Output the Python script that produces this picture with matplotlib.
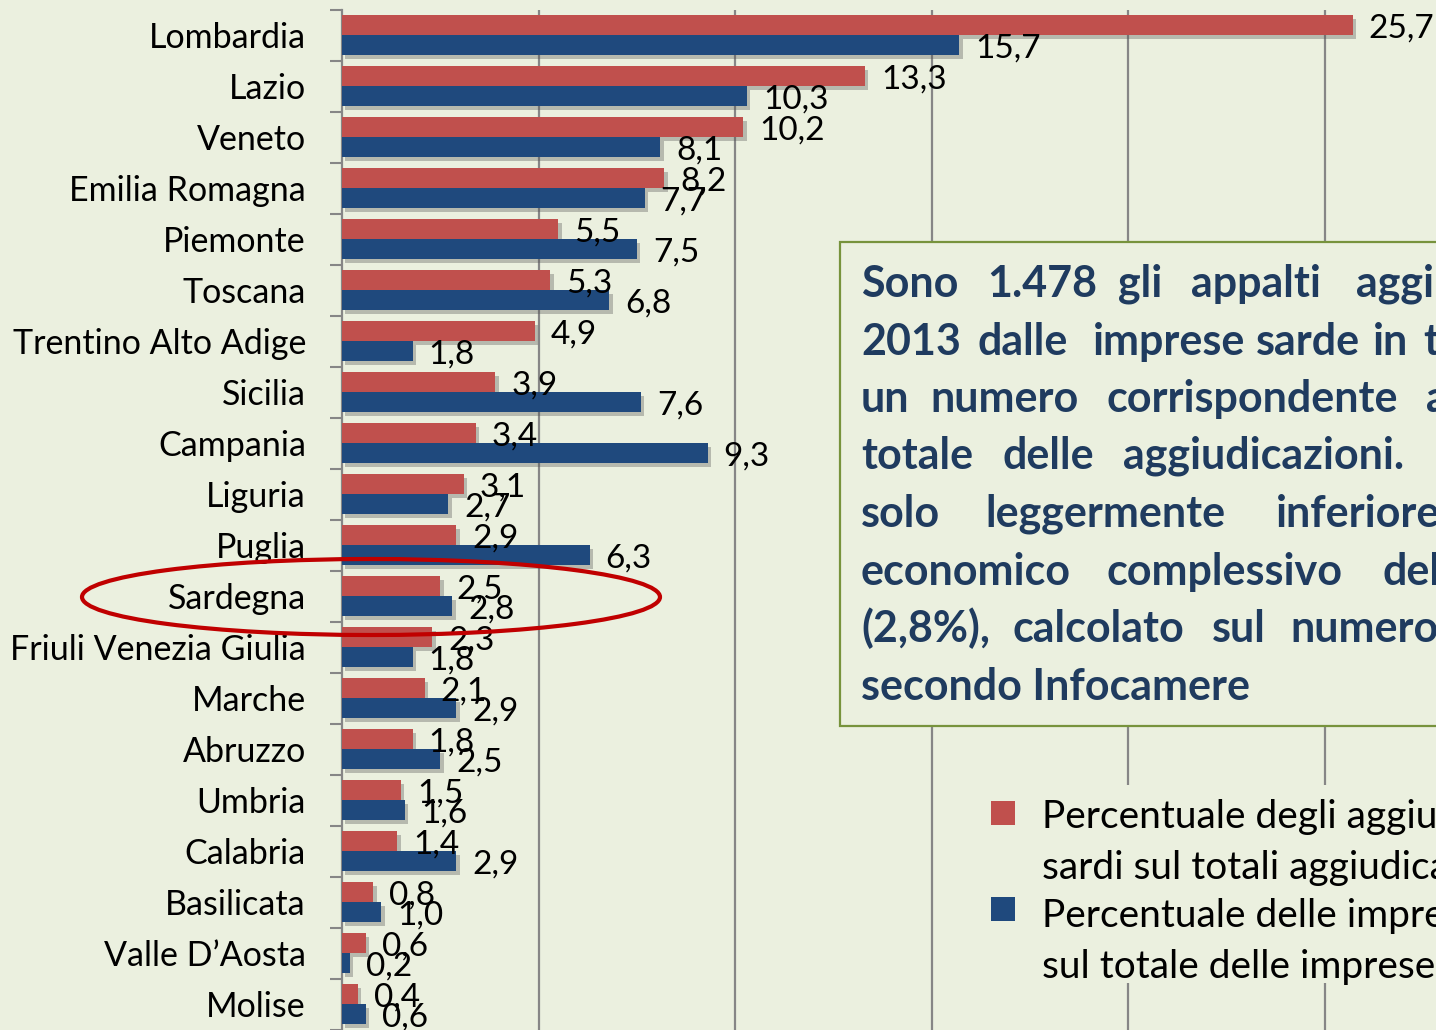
import matplotlib
matplotlib.use("Agg")
import matplotlib.pyplot as plt
import matplotlib.patheffects as pe
from matplotlib.patches import Rectangle, Ellipse

regioni = ["Lombardia", "Lazio", "Veneto", "Emilia Romagna", "Piemonte", "Toscana",
           "Trentino Alto Adige", "Sicilia", "Campania", "Liguria", "Puglia", "Sardegna",
           "Friuli Venezia Giulia", "Marche", "Abruzzo", "Umbria", "Calabria",
           "Basilicata", "Valle D\u2019Aosta", "Molise"]
aggiudicatari = [25.7, 13.3, 10.2, 8.2, 5.5, 5.3, 4.9, 3.9, 3.4, 3.1, 2.9, 2.5,
                 2.3, 2.1, 1.8, 1.5, 1.4, 0.8, 0.6, 0.4]
imprese = [15.7, 10.3, 8.1, 7.7, 7.5, 6.8, 1.8, 7.6, 9.3, 2.7, 6.3, 2.8,
           1.8, 2.9, 2.5, 1.6, 2.9, 1.0, 0.2, 0.6]

legenda = [["Percentuale degli aggiudicatari", "sardi sul totali aggiudicazioni"],
           ["Percentuale delle imprese sarde", "sul totale delle imprese italiane"]]

# justified box text: (word, x in px) per line, baseline y in px
box_lines = [
    (297, [("Sono", 861), ("1.478", 987), ("gli", 1118), ("appalti", 1191), ("aggiudicati", 1356)]),
    (355, [("2013", 861), ("dalle", 977), ("imprese", 1093), ("sarde", 1256), ("in", 1373), ("tutta", 1423)]),
    (412, [("un", 861), ("numero", 930), ("corrispondente", 1107), ("al", 1426)]),
    (469, [("totale", 861), ("delle", 1003), ("aggiudicazioni.", 1123)]),
    (527, [("solo", 861), ("leggermente", 985), ("inferiore", 1276)]),
    (585, [("economico", 861), ("complessivo", 1107), ("delle", 1383)]),
    (642, [("(2,8%),", 861), ("calcolato", 1013), ("sul", 1212), ("numero", 1290)]),
    (700, [("secondo Infocamere", 861)]),
]

bg = "#EBF0DF"
red = "#C0504D"
blue = "#1F497D"
grid = "#868686"
W, H = 1436, 1030

plt.rcParams["font.family"] = ["Lato", "DejaVu Sans"]

fig = plt.figure(figsize=(W / 100, H / 100), dpi=100)
fig.patch.set_facecolor(bg)
ax = fig.add_axes([342 / W, 0, 1 - 342 / W, 1020 / H])
ax.set_facecolor(bg)

n = len(regioni)
pos = list(range(n))
shadow = [pe.SimplePatchShadow(offset=(2.5, -2.5), shadow_rgbFace="#555555", alpha=0.35), pe.Normal()]
b1 = ax.barh([p - 0.2 for p in pos], aggiudicatari, height=0.39, color=red, zorder=3)
b2 = ax.barh([p + 0.19 for p in pos], imprese, height=0.39, color=blue, zorder=3)
for b in list(b1) + list(b2):
    b.set_path_effects(shadow)

for p, v in zip(pos, aggiudicatari):
    ax.annotate(f"{v:.1f}".replace(".", ","), (v, p - 0.2), xytext=(11.5, -2.5),
                textcoords="offset points", ha="left", va="center", fontsize=24, zorder=4)
for p, v in zip(pos, imprese):
    ax.annotate(f"{v:.1f}".replace(".", ","), (v, p + 0.19), xytext=(11.5, -2.5),
                textcoords="offset points", ha="left", va="center", fontsize=24, zorder=4)

ax.set_ylim(n - 0.5, -0.5)
ax.set_xlim(0, 1094 / 39.32)
ax.set_yticks(pos)
ax.set_yticklabels(regioni, fontsize=24.5)
ax.tick_params(axis="y", which="major", length=0, pad=26)
ax.set_yticks([p - 0.5 for p in range(n + 1)], minor=True)
ax.tick_params(axis="y", which="minor", length=9, width=1.5, color=grid)
ax.set_xticks([5, 10, 15, 20, 25])
ax.tick_params(axis="x", length=0, labelbottom=False)
ax.grid(axis="x", color=grid, linewidth=1.6, zorder=0)
for s in ["top", "right", "bottom"]:
    ax.spines[s].set_visible(False)
ax.spines["left"].set_color(grid)
ax.spines["left"].set_linewidth(1.6)

# text box
fig.add_artist(Rectangle((840 / W, 1 - 726 / H), 700 / W, 484 / H, transform=fig.transFigure,
                         facecolor=bg, edgecolor="#77933C", linewidth=1.6, zorder=5))
for yb, words in box_lines:
    for w, x in words:
        fig.text(x / W, 1 - yb / H, w, fontsize=31, fontweight="bold", color="#1F3B5F",
                 ha="left", va="baseline", zorder=6)

# legend
fig.add_artist(Rectangle((975 / W, 1 - 983 / H), 500 / W, 198 / H, transform=fig.transFigure,
                         facecolor=bg, edgecolor="none", zorder=5))
for (l1, l2), c, ys, yt in zip(legenda, [red, blue], [825, 921], [828, 927]):
    fig.add_artist(Rectangle((991 / W, 1 - ys / H), 24 / W, 24 / H, transform=fig.transFigure,
                             facecolor=c, edgecolor="none", zorder=6))
    fig.text(1042 / W, 1 - yt / H, l1, fontsize=28, ha="left", va="baseline", zorder=6)
    fig.text(1042 / W, 1 - (yt + 51) / H, l2, fontsize=28, ha="left", va="baseline", zorder=6)

# highlight Sardegna
fig.add_artist(Ellipse((371 / W, 1 - 597 / H), 578 / W, 76 / H, transform=fig.transFigure,
                       facecolor="none", edgecolor="#C00000", linewidth=3, zorder=7))

fig.savefig("out.png", dpi=100, facecolor=bg)
